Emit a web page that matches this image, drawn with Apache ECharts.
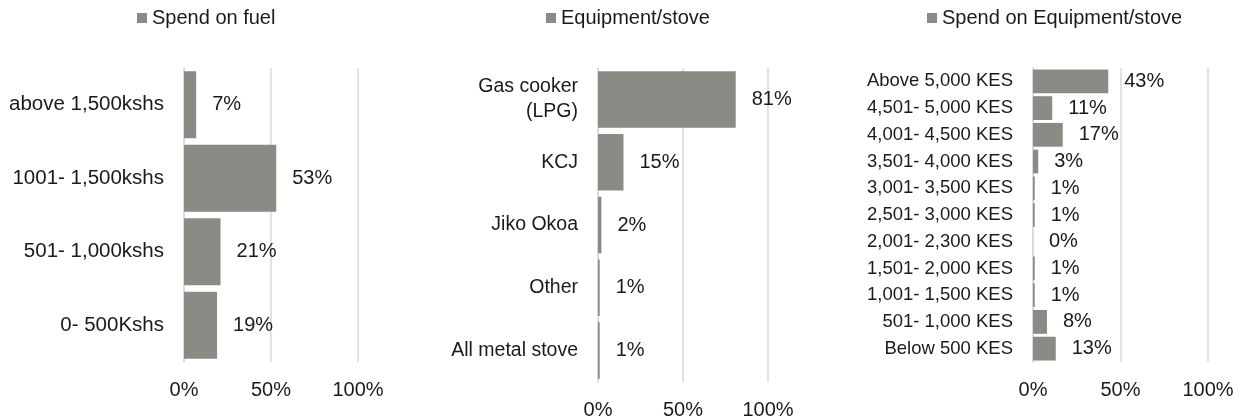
<!DOCTYPE html>
<html>
<head>
<meta charset="utf-8">
<script src="https://cdn.jsdelivr.net/npm/echarts@6/dist/echarts.min.js"></script>
<style>
html,body{margin:0;padding:0;background:#fff;}
#chart{width:1253px;height:420px;}
</style>
</head>
<body>
<div id="chart"></div>
<script>
// Data (listed top to bottom as shown)
const fuelCategories = ['above 1,500kshs', '1001- 1,500kshs', '501- 1,000kshs', '0- 500Kshs'];
const fuelValues = [7, 53, 21, 19];

const stoveCategories = ['Gas cooker\n(LPG)', 'KCJ', 'Jiko Okoa', 'Other', 'All metal stove'];
const stoveValues = [81, 15, 2, 1, 1];

const spendCategories = ['Above 5,000 KES', '4,501- 5,000 KES', '4,001- 4,500 KES', '3,501- 4,000 KES',
  '3,001- 3,500 KES', '2,501- 3,000 KES', '2,001- 2,300 KES', '1,501- 2,000 KES',
  '1,001- 1,500 KES', '501- 1,000 KES', 'Below 500 KES'];
const spendValues = [43, 11, 17, 3, 1, 1, 0, 1, 1, 8, 13];

const xTicks = [0, 50, 100];

const seriesNames = ['Spend on fuel', 'Equipment/stove', 'Spend on Equipment/stove'];

const FONT = 'Liberation Sans';
const BAR = '#8b8b85';
const GRIDC = '#d9d9d9';
const TXT = '#1a1a1a';

const grids = [
  {left: 184, top: 68, width: 174, height: 294},
  {left: 598, top: 68, width: 170, height: 317},
  {left: 1033, top: 68, width: 175, height: 294}
];
const cats = [fuelCategories, stoveCategories, spendCategories];
const vals = [fuelValues, stoveValues, spendValues];
const gaps = ['9%', '10%', '11%'];
const catFont = [20.5, 19.5, 18.5];
const legendLeft = [137, 546, 927];

const option = {
  animation: false,
  textStyle: {fontFamily: FONT},
  legend: seriesNames.map((n, i) => ({
    data: [n], left: legendLeft[i], top: 8, padding: 0, icon: 'rect', itemWidth: 10, itemHeight: 10,
    itemGap: 5, textStyle: {fontFamily: FONT, fontSize: 20, color: TXT}
  })),
  grid: grids.map(g => Object.assign({containLabel: false}, g)),
  xAxis: grids.map((g, i) => ({
    type: 'value', gridIndex: i, min: xTicks[0], max: xTicks[xTicks.length - 1], interval: xTicks[1] - xTicks[0],
    axisLine: {show: false}, axisTick: {show: false},
    splitLine: {show: true, lineStyle: {color: GRIDC, width: 1.5}},
    axisLabel: {formatter: '{value}%', fontFamily: FONT, fontSize: 20, color: TXT, margin: 18}
  })),
  yAxis: grids.map((g, i) => ({
    type: 'category', gridIndex: i, data: cats[i], inverse: true,
    axisLine: {show: true, lineStyle: {color: GRIDC, width: 1.5}}, axisTick: {show: false},
    axisLabel: {interval: 0, fontFamily: FONT, fontSize: catFont[i], color: TXT, margin: 20, lineHeight: 25}
  })),
  series: seriesNames.map((n, i) => ({
    name: n, type: 'bar', xAxisIndex: i, yAxisIndex: i, data: vals[i],
    barCategoryGap: gaps[i], itemStyle: {color: BAR},
    label: {show: true, position: 'right', distance: 16, formatter: '{c}%',
      fontFamily: FONT, fontSize: 20, color: TXT}
  }))
};

const chart = echarts.init(document.getElementById('chart'), null, {renderer: 'canvas'});
chart.setOption(option);
</script>
</body>
</html>
